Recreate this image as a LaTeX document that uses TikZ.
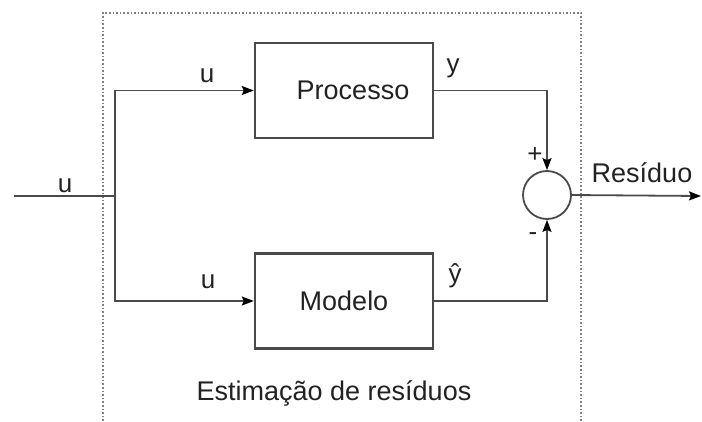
\documentclass[tikz,border=0pt]{standalone}
\usepackage{fontspec}
\setmainfont{Liberation Sans}
\usetikzlibrary{arrows.meta}

\definecolor{linegray}{HTML}{4A4A4A}
\definecolor{textgray}{HTML}{222222}

\begin{document}
\begin{tikzpicture}[x=1pt,y=-1pt]
\tikzset{
  blockbox/.style={draw=linegray,line width=2.4pt,minimum width=178pt,minimum height=95pt,inner sep=0pt,text=textgray,font=\fontsize{27}{32}\selectfont},
  sumnode/.style={circle,draw=linegray,line width=1.8pt,minimum size=48pt,inner sep=0pt},
  signal/.style={draw=linegray,line width=1.8pt},
  directed/.style={signal,-{Stealth[length=12pt,width=9pt,inset=2pt,color=black]}},
  sig/.style={inner sep=0pt,anchor=base,text=textgray,font=\fontsize{26}{31}\selectfont},
  frame/.style={draw=gray,line width=1.6pt,dotted}
}
\useasboundingbox (0,0) rectangle (702,421);
% dotted frame
\draw[frame] (103,421) -- (103,13) -- (581,13) -- (581,421);
% blocks
\node[blockbox] (proc) at (344,90.5) {\hspace{18pt}Processo};
\node[blockbox] (model) at (344,301) {Modelo};
\node[sumnode] (sum) at (547,195) {};
\coordinate (in) at (14,196);
\coordinate (split) at (115,196);
\coordinate (out) at (701,196);
% connectors
\draw[signal] (in) -- (split);
\draw[directed] (split) |- (proc.west);
\draw[directed] (split) |- (model.west);
\draw[directed] (proc.east) -| (sum.north);
\draw[directed] (model.east) -| (sum.south);
\draw[directed] (sum.east) -- (out);
% labels
\node[sig] (u_in) at (65,192) {u};
\node[sig] (u_proc) at (207,82) {u};
\node[sig] (u_model) at (208,288) {u};
\node[sig] (y_proc) at (453,72) {y};
\node[sig] (y_model) at (455,282) {ŷ};
\node[sig,anchor=center] (plus) at (535,155) {+};
\node[sig,anchor=center] (minus) at (533,237) {-};
\node[sig,font=\fontsize{27}{32}\selectfont] (res) at (642,182) {Resíduo};
\node[sig,font=\fontsize{27}{32}\selectfont] (title) at (334,400) {Estimação de resíduos};
\end{tikzpicture}
\end{document}
